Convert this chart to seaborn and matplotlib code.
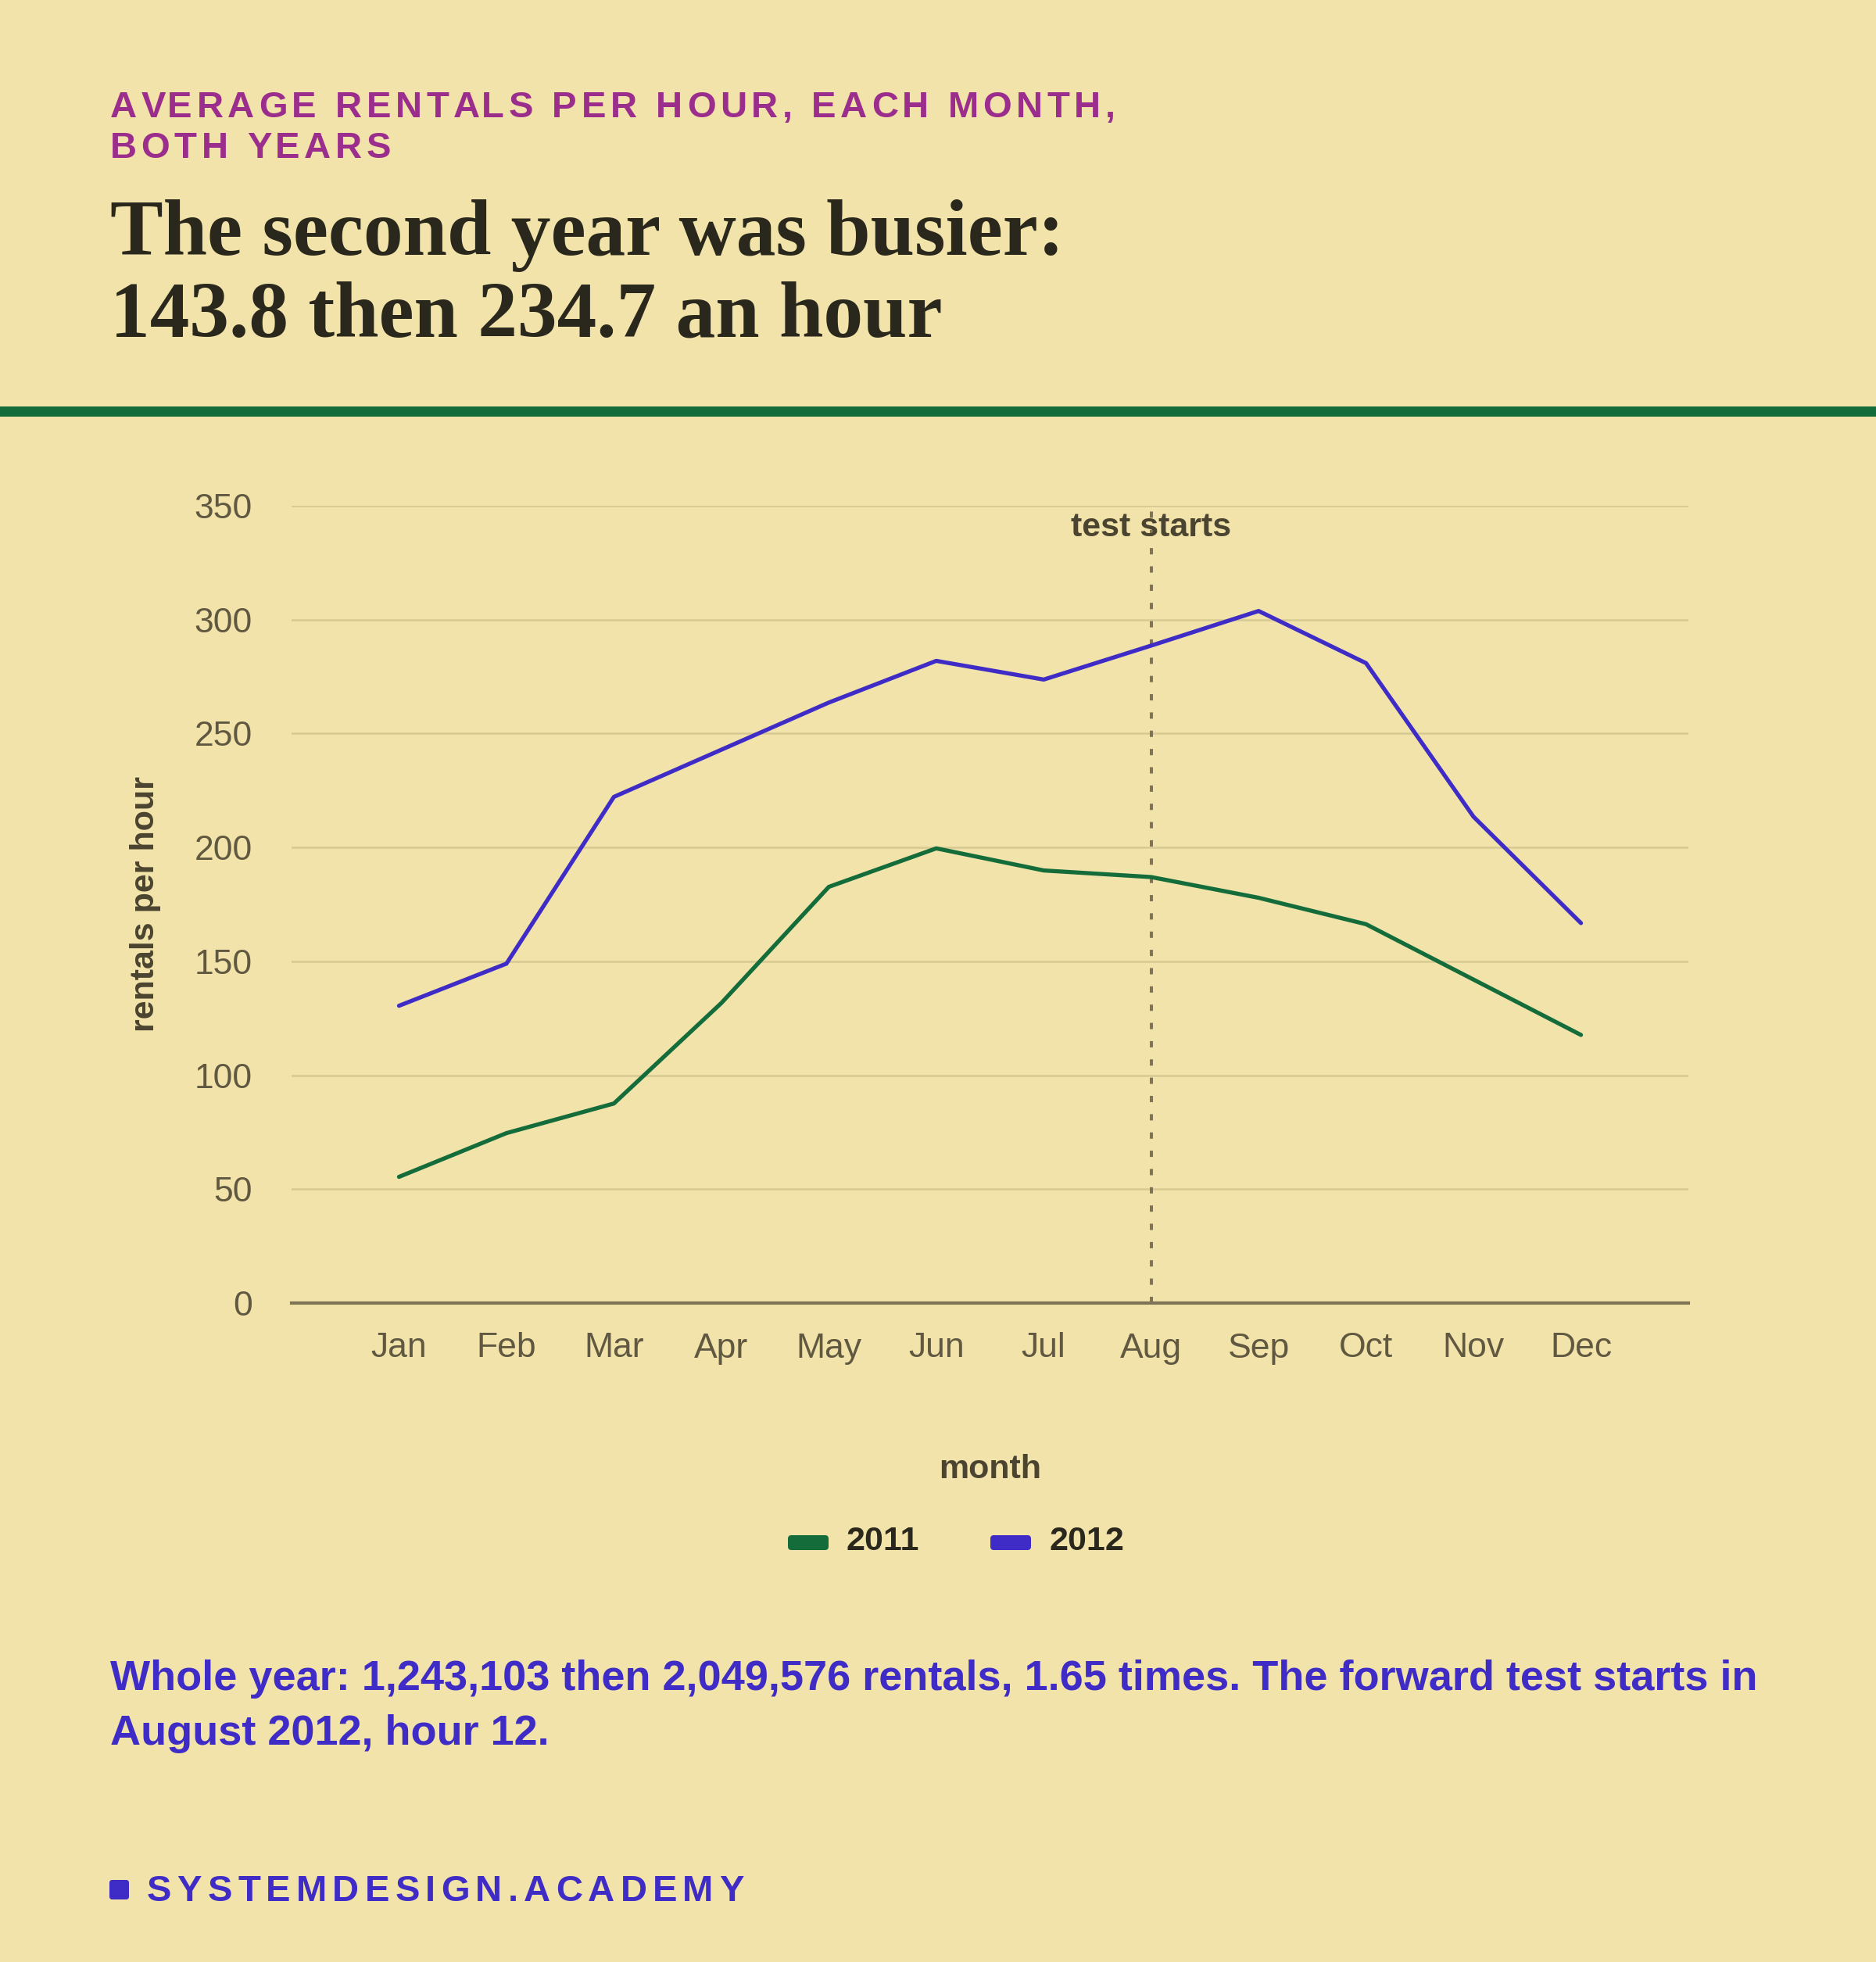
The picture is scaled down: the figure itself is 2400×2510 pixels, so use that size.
import matplotlib
matplotlib.use("Agg")
import matplotlib.pyplot as plt
import seaborn as sns
import pandas as pd
from matplotlib.patches import Rectangle, FancyBboxPatch

# 데이터 (월별 시간당 평균 대여 수)
months = ['Jan', 'Feb', 'Mar', 'Apr', 'May', 'Jun', 'Jul', 'Aug', 'Sep', 'Oct', 'Nov', 'Dec']
month_num = list(range(1, 13))
rentals_2011 = [55.4, 74.6, 87.6, 131.7, 182.7, 199.6, 189.9, 187.0, 177.9, 166.3, 142.0, 117.7]
rentals_2012 = [130.5, 149.0, 222.2, 242.9, 263.6, 281.9, 273.7, 288.6, 303.8, 280.9, 213.5, 166.8]
years = ['2011', '2012']
yticks = [0, 50, 100, 150, 200, 250, 300, 350]
test_month = 8

BG = '#f1e3a9'
GREEN = '#146c3b'
BLUE = '#3f2cc6'
MAGENTA = '#9b2d8d'
INK = '#2a281d'
TICK = '#605840'
LABEL = '#4a4430'
AXIS = '#7f7556'
GRID = '#d6c992'

W, H = 2400, 2510

sns.set_theme(style='white')
plt.rcParams['font.family'] = ['Liberation Sans', 'DejaVu Sans']

df = pd.DataFrame({
    'month': month_num * 2,
    'rentals': rentals_2011 + rentals_2012,
    'year': [years[0]] * 12 + [years[1]] * 12,
})

fig = plt.figure(figsize=(W / 100, H / 100), dpi=100, facecolor=BG)


def fx(x):
    return x / W


def fy(y):
    return 1 - y / H


def tracked_text(x, y, s, track, **kw):
    # 자간을 넓힌 텍스트: 글자 하나씩 배치
    renderer = fig.canvas.get_renderer()
    probe = fig.text(0, 0, '', **kw)

    def width(t):
        probe.set_text(t + '|')
        return probe.get_window_extent(renderer).width

    base = width('')
    for i, ch in enumerate(s):
        if ch == ' ':
            continue
        off = width(s[:i]) - base + i * track
        fig.text(fx(x + off), fy(y), ch, ha='left', va='baseline', **kw)
    probe.remove()


# 헤더
sub_kw = dict(fontsize=34, fontweight='bold', color=MAGENTA)
tracked_text(141, 150, 'AVERAGE RENTALS PER HOUR, EACH MONTH,', 5.6, **sub_kw)
tracked_text(141, 202, 'BOTH YEARS', 5.6, **sub_kw)

title_kw = dict(fontsize=73, fontweight='bold', color=INK, family='Liberation Serif',
                ha='left', va='baseline')
fig.text(fx(141), fy(326), 'The second year was busier:', **title_kw)
fig.text(fx(141), fy(430), '143.8 then 234.7 an hour', **title_kw)

fig.add_artist(Rectangle((0, fy(533)), 1, 13 / H, transform=fig.transFigure,
                         color=GREEN, lw=0))

# 차트
ax = fig.add_axes([fx(373), fy(1667), (2160 - 373) / W, 1020 / H])
ax.set_facecolor(BG)
ax.axvline(test_month, color=AXIS, lw=2.9, linestyle=(0, (2, 3.8)), zorder=1)
sns.lineplot(data=df, x='month', y='rentals', hue='year',
             palette={'2011': GREEN, '2012': BLUE}, lw=3.8, legend=False,
             ax=ax, zorder=3)

ax.set_xlim(0, 13)
ax.set_ylim(0, 350)
ax.set_xticks(month_num)
ax.set_xticklabels(months)
ax.set_yticks(yticks)
ax.set_yticklabels([str(v) for v in yticks])
ax.yaxis.grid(True, color=GRID, lw=1.8, zorder=0)
ax.xaxis.grid(False)
for side in ['left', 'right', 'top']:
    ax.spines[side].set_visible(False)
ax.spines['bottom'].set_color(AXIS)
ax.spines['bottom'].set_linewidth(3)
ax.spines['bottom'].set_zorder(2)
ax.tick_params(axis='x', length=13, width=1.8, color=AXIS, labelsize=32,
               labelcolor=TICK, pad=14)
ax.tick_params(axis='y', length=0, labelsize=32, labelcolor=TICK, pad=36)

ax.set_xlabel('month', fontsize=31, fontweight='bold', color=LABEL, va='top')
ax.xaxis.set_label_coords(0.5, -0.189)
ax.set_ylabel('rentals per hour', fontsize=31, fontweight='bold', color=LABEL,
              labelpad=31)

ax.text(test_month, 340.5, 'test starts', ha='center', va='center', fontsize=31,
        fontweight='bold', color=LABEL, zorder=4)

# 범례
for x0, col, lab in [(1008, GREEN, years[0]), (1267, BLUE, years[1])]:
    fig.add_artist(FancyBboxPatch((fx(x0), fy(1983)), 52 / W, 19 / H,
                                  boxstyle='round,pad=0,rounding_size=0.0018',
                                  transform=fig.transFigure, color=col, lw=0))
    fig.text(fx(x0 + 75), fy(1983), lab, fontsize=31, fontweight='bold',
             color=INK, ha='left', va='baseline')

# 하단 텍스트
foot_kw = dict(fontsize=39, fontweight='bold', color=BLUE, ha='left', va='baseline')
fig.text(fx(141), fy(2162), 'Whole year: 1,243,103 then 2,049,576 rentals, 1.65 times. '
         'The forward test starts in', **foot_kw)
fig.text(fx(141), fy(2232), 'August 2012, hour 12.', **foot_kw)

fig.add_artist(FancyBboxPatch((fx(140), fy(2430)), 25 / W, 25 / H,
                              boxstyle='round,pad=0,rounding_size=0.0015',
                              transform=fig.transFigure, color=BLUE, lw=0))
tracked_text(188, 2432, 'SYSTEMDESIGN.ACADEMY', 7.2, fontsize=34,
             fontweight='bold', color=BLUE)

fig.savefig('out.png', dpi=100, facecolor=BG)
